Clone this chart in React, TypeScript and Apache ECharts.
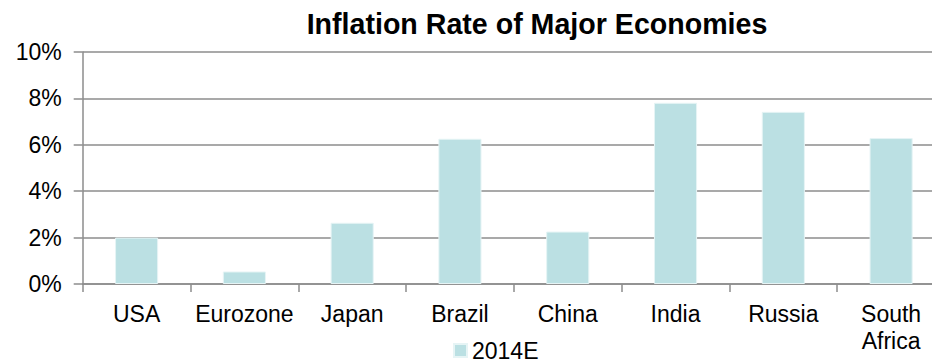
import React, { useEffect, useRef } from "react";
import * as echarts from "echarts";

const categories = ["USA", "Eurozone", "Japan", "Brazil", "China", "India", "Russia", "South\nAfrica"];
const inflation2014E = [2.0, 0.54, 2.64, 6.26, 2.26, 7.81, 7.42, 6.29];
const seriesName = "2014E";
const titleText = "Inflation Rate of Major Economies";

const FONT = "'Liberation Sans', Arial, sans-serif";
const GRID_COLOR = "#8c8c8c";

export default function App() {
  const ref = useRef<HTMLDivElement>(null);

  useEffect(() => {
    if (!ref.current) return;
    const chart = echarts.init(ref.current, null, { renderer: "svg" });
    chart.setOption({
      animation: false,
      backgroundColor: "#ffffff",
      textStyle: { fontFamily: FONT },
      title: {
        text: titleText,
        left: 532,
        top: 4,
        textAlign: "center",
        textStyle: { fontFamily: FONT, fontSize: 28.6, fontWeight: "bold", color: "#000000" },
      },
      legend: {
        data: [seriesName],
        left: 453,
        top: 339,
        padding: 0,
        itemWidth: 13,
        itemHeight: 13,
        icon: "rect",
        textStyle: { fontFamily: FONT, fontSize: 23, color: "#000000", lineHeight: 18 },
      },
      grid: { left: 82.7, right: 0, top: 52, bottom: 79, containLabel: false },
      xAxis: {
        type: "category",
        data: categories,
        axisLine: { show: true, lineStyle: { color: GRID_COLOR, width: 1.5 } },
        axisTick: { show: true, length: 8, lineStyle: { color: GRID_COLOR, width: 1.5 } },
        axisLabel: {
          fontFamily: FONT,
          fontSize: 23,
          lineHeight: 27,
          color: "#000000",
          margin: 16,
          interval: 0,
        },
      },
      yAxis: {
        type: "value",
        min: 0,
        max: 10,
        interval: 2,
        axisLine: { show: true, lineStyle: { color: GRID_COLOR, width: 1.5 } },
        axisTick: { show: true, length: 9, lineStyle: { color: GRID_COLOR, width: 1.5 } },
        splitLine: { show: true, lineStyle: { color: GRID_COLOR, width: 1.5 } },
        axisLabel: {
          fontFamily: FONT,
          fontSize: 23,
          color: "#000000",
          margin: 21,
          formatter: "{value}%",
        },
      },
      series: [
        {
          name: seriesName,
          type: "bar",
          data: inflation2014E,
          barWidth: "40%",
          itemStyle: { color: "#bbe0e3", borderColor: "#e6f4f5", borderWidth: 1 },
        },
      ],
    });
    return () => chart.dispose();
  }, []);

  return (
    <div
      style={{
        position: "fixed",
        left: 0,
        top: 0,
        width: 932,
        height: 363,
        overflow: "hidden",
        background: "#fff",
      }}
    >
      <div ref={ref} style={{ width: 945, height: 363 }} />
    </div>
  );
}
